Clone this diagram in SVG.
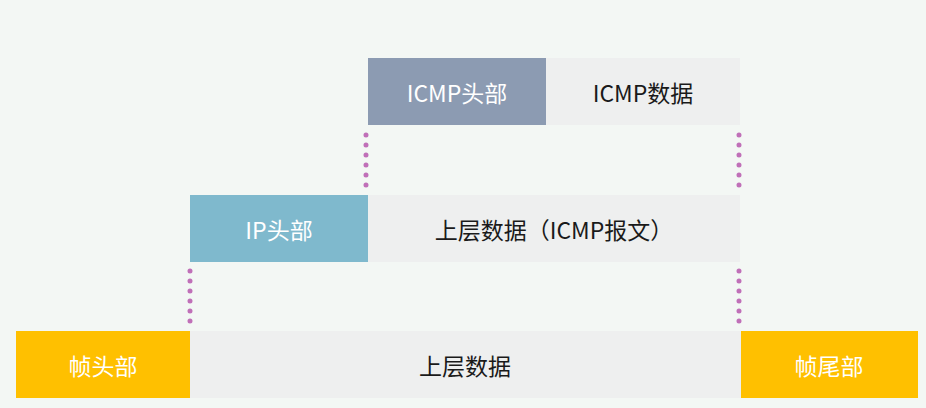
<svg xmlns="http://www.w3.org/2000/svg" width="926" height="408" viewBox="0 0 926 408">
<style>
text{font-family:"Noto Sans CJK SC","Noto Sans",sans-serif;font-size:23px;text-anchor:middle;dominant-baseline:central}
.w{fill:#ffffff}.d{fill:#1a1a1a}
.dot{stroke:#c070b8;stroke-width:5;stroke-linecap:round;stroke-dasharray:0 10;fill:none}
</style>
<rect width="926" height="408" fill="#f3f7f4"/>
<g id="icmp-header"><rect x="368" y="58" width="178" height="67" fill="#8c9bb2"/><text class="w" x="457" y="92">ICMP头部</text></g>
<g id="icmp-data"><rect x="546" y="58" width="194" height="67" fill="#eeefef"/><text class="d" x="643" y="92">ICMP数据</text></g>
<g id="ip-header"><rect x="190" y="195" width="178" height="67" fill="#7fb9cd"/><text class="w" x="279" y="229">IP头部</text></g>
<g id="ip-data"><rect x="368" y="195" width="372" height="67" fill="#eeefef"/><text class="d" x="554" y="229">上层数据（ICMP报文）</text></g>
<g id="frame-header"><rect x="16" y="331" width="174" height="67" fill="#ffc000"/><text class="w" x="103" y="365">帧头部</text></g>
<g id="frame-data"><rect x="190" y="331" width="551" height="67" fill="#eeefef"/><text class="d" x="465" y="365">上层数据</text></g>
<g id="frame-trailer"><rect x="741" y="331" width="177" height="67" fill="#ffc000"/><text class="w" x="829" y="365">帧尾部</text></g>
<g id="connectors">
<path class="dot" d="M366 135V186M739 135V186M190 271V322M739 271V322"/>
</g>
</svg>
